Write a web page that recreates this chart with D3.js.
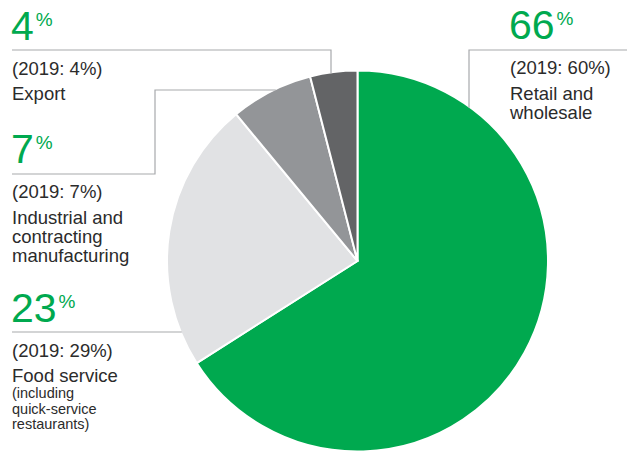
<!DOCTYPE html>
<html>
<head>
<meta charset="utf-8">
<script src="https://cdn.jsdelivr.net/npm/d3@7"></script>
<style>
  html, body { margin: 0; padding: 0; background: #fff; }
  svg { display: block; }
  text { font-family: "Liberation Sans", Arial, sans-serif; }
</style>
</head>
<body>
<svg id="chart" width="627" height="452"></svg>
<script>
// Sales split by channel, 2020 share with 2019 comparison
const categories = ["Retail and wholesale", "Food service", "Industrial and contracting manufacturing", "Export"];
const share2020 = [66, 23, 7, 4];
const share2019 = [60, 29, 7, 4];
const labelLines = [
  ["Retail and", "wholesale"],
  ["Food service"],
  ["Industrial and", "contracting", "manufacturing"],
  ["Export"]
];
const noteLines = [[], ["(including", "quick-service", "restaurants)"], [], []];
const sliceColors = ["#00a94f", "#e1e2e4", "#939598", "#636466"];

const W = 627, H = 452;
const cx = 357.5, cy = 261, R = 190.5;
const green = "#00a94f", ink = "#2b2b2b", rule = "#a7a9ac";

const svg = d3.select("#chart");

// Pie, clockwise from 12 o'clock in data order
const pie = d3.pie().sort(null).value(d => d.v).startAngle(0).endAngle(2 * Math.PI);
const arc = d3.arc().innerRadius(0).outerRadius(R);
const rows = categories.map((c, i) => ({ c, v: share2020[i], i }));

svg.append("g")
  .attr("transform", `translate(${cx},${cy})`)
  .selectAll("path")
  .data(pie(rows))
  .join("path")
  .attr("d", arc)
  .attr("fill", d => sliceColors[d.data.i])
  .attr("stroke", "#fff")
  .attr("stroke-width", 2)
  .attr("stroke-linejoin", "round");

// Helpers to land leader lines on the pie rim
const rimR = R - 1;
const rimYAt = x => cy - Math.sqrt(rimR * rimR - (x - cx) * (x - cx));
const rimXLeftAt = y => cx - Math.sqrt(rimR * rimR - (y - cy) * (y - cy));

// Label blocks: where each annotation sits and how its leader runs
const layout = [
  { x: 510, big: 39, sub: 74, label: 100, lh: 19,
    leader: () => `M${W},50H469V${rimYAt(469)}` },
  { x: 12, big: 322, sub: 357, label: 382, lh: 19, noteStart: 398, noteLh: 15.5,
    leader: () => `M12,332H${rimXLeftAt(332)}` },
  { x: 12, big: 163, sub: 198, label: 224, lh: 19,
    leader: () => `M12,174H155V90H${rimXLeftAt(90)}` },
  { x: 12, big: 40, sub: 75, label: 100, lh: 19,
    leader: () => `M12,50H331V${rimYAt(331)}` }
];

const leaders = svg.append("g")
  .attr("fill", "none")
  .attr("stroke", rule)
  .attr("stroke-width", 1.2);

layout.forEach((L, i) => {
  leaders.append("path").attr("d", L.leader());

  const g = svg.append("g");

  // Big percentage with raised % sign
  const big = g.append("text")
    .attr("x", L.x - 1)
    .attr("y", L.big)
    .attr("fill", green)
    .attr("font-size", 41);
  big.append("tspan").text(share2020[i]);
  big.append("tspan")
    .attr("dx", 2)
    .attr("dy", -14)
    .attr("font-size", 19)
    .text("%");

  // Prior-year comparison
  g.append("text")
    .attr("x", L.x)
    .attr("y", L.sub)
    .attr("fill", ink)
    .attr("font-size", 18.5)
    .text(`(2019: ${share2019[i]}%)`);

  // Category name
  labelLines[i].forEach((line, k) => {
    g.append("text")
      .attr("x", L.x)
      .attr("y", L.label + k * L.lh)
      .attr("fill", ink)
      .attr("font-size", 18.5)
      .text(line);
  });

  // Smaller qualifying note
  noteLines[i].forEach((line, k) => {
    g.append("text")
      .attr("x", L.x)
      .attr("y", L.noteStart + k * L.noteLh)
      .attr("fill", ink)
      .attr("font-size", 14.5)
      .text(line);
  });
});
</script>
</body>
</html>
